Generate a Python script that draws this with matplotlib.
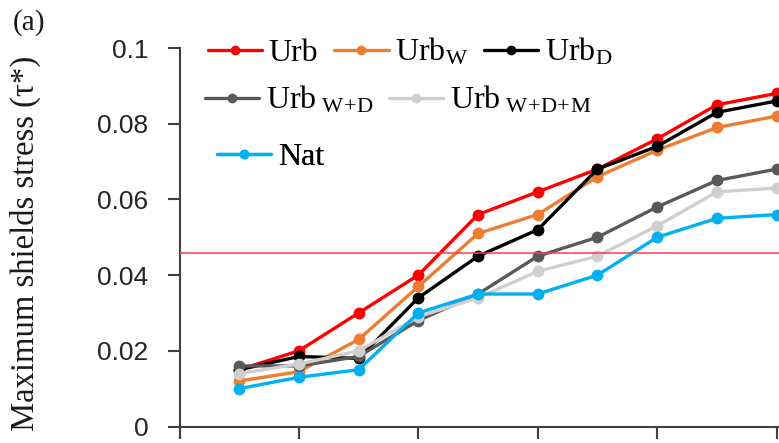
import matplotlib
matplotlib.use("Agg")
import matplotlib.pyplot as plt

# --- series values (maximum Shields stress per flow step) ---
steps = [1, 2, 3, 4, 5, 6, 7, 8, 9, 10]
urb = [0.015, 0.020, 0.030, 0.040, 0.056, 0.062, 0.068, 0.076, 0.085, 0.088]
urb_w = [0.012, 0.0145, 0.023, 0.037, 0.051, 0.056, 0.066, 0.073, 0.079, 0.082]
urb_d = [0.015, 0.0185, 0.018, 0.034, 0.045, 0.052, 0.068, 0.074, 0.083, 0.086]
urb_wd = [0.016, 0.016, 0.0185, 0.028, 0.035, 0.045, 0.050, 0.058, 0.065, 0.068]
urb_wdm = [0.014, 0.0165, 0.020, 0.029, 0.034, 0.041, 0.045, 0.053, 0.062, 0.063]
nat = [0.010, 0.013, 0.015, 0.030, 0.035, 0.035, 0.040, 0.050, 0.055, 0.056]
threshold = 0.0458

series_names = ["Urb", r"Urb$_\mathrm{W}$", r"Urb$_\mathrm{D}$",
                r"Urb$_{\ \mathrm{W}\!+\!\mathrm{D}}$",
                r"Urb$_{\ \mathrm{W}\!+\!\mathrm{D}\!+\!\mathrm{M}}$", "Nat"]
series_colors = ["#FF0000", "#ED7D31", "#000000", "#595959", "#D0CECE", "#00B0F0"]
yticks = [0, 0.02, 0.04, 0.06, 0.08, 0.1]
ytick_labels = ["0", "0.02", "0.04", "0.06", "0.08", "0.1"]

plt.rcParams.update({
    "mathtext.fontset": "custom",
    "mathtext.rm": "Liberation Serif",
    "mathtext.it": "Liberation Serif:italic",
    "font.family": "Liberation Serif",
})

W, H = 779, 443
fig = plt.figure(figsize=(W / 100, H / 100), dpi=100)
ax = fig.add_axes([179.5 / W, (H - 426.5) / H, 599.5 / W, (426.5 - 48) / H])

lines = []
for vals, name, col in zip([urb, urb_w, urb_d, urb_wd, urb_wdm, nat],
                           series_names, series_colors):
    ln, = ax.plot(steps, vals, color=col, lw=2.4, marker="o", ms=7.5,
                  label=name, solid_capstyle="round")
    lines.append(ln)

ax.axhline(threshold, color="#F0444C", lw=1.1, zorder=5)

ax.set_xlim(0, 10.04)
ax.set_ylim(0, 0.1)
ax.set_xticks([0, 2, 4, 6, 8, 10])
ax.set_xticklabels([])
ax.set_yticks(yticks)
ax.set_yticklabels(ytick_labels, family="Liberation Sans", fontsize=19,
                   color="#262626")

for side in ("top", "right"):
    ax.spines[side].set_visible(False)
for side in ("left", "bottom"):
    ax.spines[side].set_color("#404040")
    ax.spines[side].set_linewidth(1.5)
ax.tick_params(axis="both", direction="out", length=8.5, width=1.5,
               color="#404040")
ax.tick_params(axis="y", pad=14)

fig.text(25 / W, (H - 243) / H, "Maximum shields stress (τ*)", rotation=90,
         ha="center", va="center", fontsize=23.5, color="#1a1a1a")
fig.text(13 / W, (H - 9) / H, "(a)", ha="left", va="top", fontsize=21,
         color="#1a1a1a")

# legend rows laid out like the original chart
rows = [([0, 1, 2], 208, 52), ([3, 4], 205, 100), ([5], 217, 157)]
for idx, x0, y0 in rows:
    leg = ax.legend([lines[i] for i in idx], [series_names[i] for i in idx],
                    loc="center left", bbox_to_anchor=(x0 / W, (H - y0) / H),
                    bbox_transform=fig.transFigure, ncol=len(idx),
                    frameon=False, fontsize=23, borderpad=0, borderaxespad=0,
                    handlelength=1.7, handletextpad=0.2, columnspacing=0.5,
                    markerscale=0.8)
    ax.add_artist(leg)

fig.savefig("out.png", dpi=100, facecolor="white")
